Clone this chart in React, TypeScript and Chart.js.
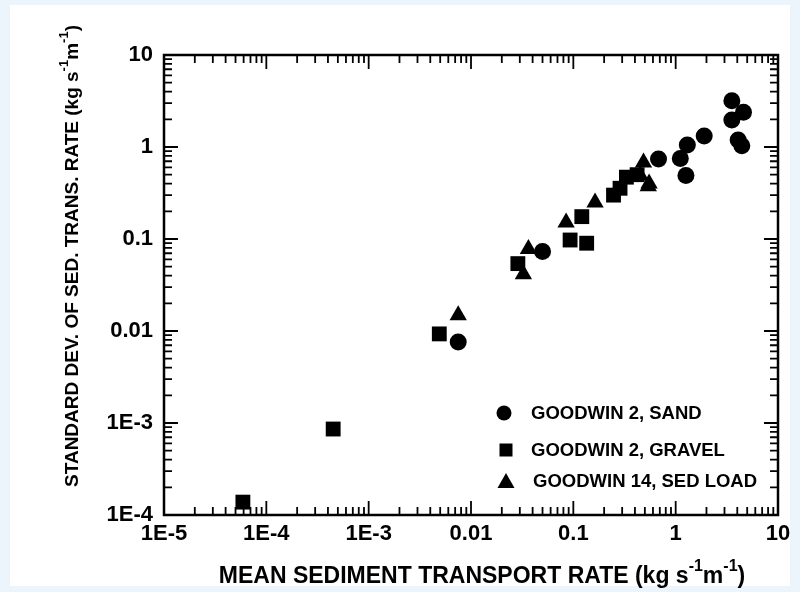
import React, { useEffect, useRef } from 'react';
import { Chart, registerables } from 'chart.js';

Chart.register(...registerables);

// Goodwin 2, sand fraction
const sandX = [0.0075, 0.05, 0.68, 1.11, 1.26, 1.3, 1.9, 3.54, 3.54, 4.6, 4.08, 4.43];
const sandY = [0.0076, 0.073, 0.74, 0.75, 0.49, 1.05, 1.32, 3.18, 1.96, 2.38, 1.19, 1.03];

// Goodwin 2, gravel fraction
const gravelX = [5.9e-5, 4.5e-4, 0.0049, 0.0287, 0.093, 0.135, 0.121, 0.247, 0.286, 0.33, 0.42];
const gravelY = [1.38e-4, 8.6e-4, 0.0093, 0.054, 0.0975, 0.09, 0.175, 0.3, 0.356, 0.47, 0.5];

// Goodwin 14, bed load
const sedX = [0.0075, 0.0325, 0.0364, 0.085, 0.163, 0.45, 0.485, 0.54, 0.55];
const sedY = [0.0148, 0.0415, 0.078, 0.151, 0.25, 0.49, 0.68, 0.375, 0.4];

const seriesLabels = ['GOODWIN 2, SAND', 'GOODWIN 2, GRAVEL', 'GOODWIN 14, SED LOAD'];

const xTickValues = [1e-5, 1e-4, 1e-3, 0.01, 0.1, 1, 10];
const xTickLabels = ['1E-5', '1E-4', '1E-3', '0.01', '0.1', '1', '10'];
const yTickValues = [1e-4, 1e-3, 0.01, 0.1, 1, 10];
const yTickLabels = ['1E-4', '1E-3', '0.01', '0.1', '1', '10'];

type Part = [string, boolean];
const xTitleParts: Part[] = [['MEAN SEDIMENT TRANSPORT RATE (kg s', false], ['-1', true], ['m', false], ['-1', true], [')', false]];
const yTitleParts: Part[] = [['STANDARD DEV. OF SED. TRANS. RATE (kg s', false], ['-1', true], ['m', false], ['-1', true], [')', false]];

const FONT = "'Liberation Sans', Arial, Helvetica, sans-serif";

const pairs = (xs: number[], ys: number[]) => xs.map((x, i) => ({ x, y: ys[i] }));

function drawRich(ctx: CanvasRenderingContext2D, parts: Part[], cx: number, cy: number, size: number) {
  const main = `bold ${size}px ${FONT}`;
  const sup = `bold ${Math.round(size * 0.7)}px ${FONT}`;
  let total = 0;
  for (const [t, s] of parts) {
    ctx.font = s ? sup : main;
    total += ctx.measureText(t).width;
  }
  let x = cx - total / 2;
  ctx.textBaseline = 'middle';
  ctx.textAlign = 'left';
  for (const [t, s] of parts) {
    ctx.font = s ? sup : main;
    ctx.fillText(t, x, s ? cy - size * 0.45 : cy);
    x += ctx.measureText(t).width;
  }
}

const framePlugin = {
  id: 'frameTicks',
  beforeDatasetsDraw(chart: any) {
    const { ctx, chartArea: a, scales } = chart;
    const xs = scales.x;
    const ys = scales.y;
    ctx.save();
    ctx.strokeStyle = '#000';
    ctx.lineWidth = 2.5;
    ctx.strokeRect(a.left, a.top, a.right - a.left, a.bottom - a.top);
    ctx.lineWidth = 1.8;
    ctx.beginPath();
    const major = 14;
    const minor = 8;
    xTickValues.forEach((d, i) => {
      const px = xs.getPixelForValue(d);
      ctx.moveTo(px, a.bottom); ctx.lineTo(px, a.bottom - major);
      ctx.moveTo(px, a.top); ctx.lineTo(px, a.top + major);
      if (i < xTickValues.length - 1) {
        for (let m = 2; m <= 9; m++) {
          const p = xs.getPixelForValue(d * m);
          ctx.moveTo(p, a.bottom); ctx.lineTo(p, a.bottom - minor);
          ctx.moveTo(p, a.top); ctx.lineTo(p, a.top + minor);
        }
      }
    });
    yTickValues.forEach((d, i) => {
      const py = ys.getPixelForValue(d);
      ctx.moveTo(a.left, py); ctx.lineTo(a.left + major, py);
      ctx.moveTo(a.right, py); ctx.lineTo(a.right - major, py);
      if (i < yTickValues.length - 1) {
        for (let m = 2; m <= 9; m++) {
          const p = ys.getPixelForValue(d * m);
          ctx.moveTo(a.left, p); ctx.lineTo(a.left + minor, p);
          ctx.moveTo(a.right, p); ctx.lineTo(a.right - minor, p);
        }
      }
    });
    ctx.stroke();
    ctx.restore();
  },
  afterDraw(chart: any) {
    const { ctx, chartArea: a } = chart;
    ctx.save();
    ctx.fillStyle = '#000';

    // axis titles
    drawRich(ctx, xTitleParts, 482, 577, 23);
    ctx.save();
    ctx.translate(73, 256);
    ctx.rotate(-Math.PI / 2);
    drawRich(ctx, yTitleParts, 0, 0, 19);
    ctx.restore();

    // legend
    const mx = a.right - 274;
    const rows = [a.bottom - 102, a.bottom - 65, a.bottom - 34];
    ctx.font = `bold 18.5px ${FONT}`;
    ctx.textBaseline = 'middle';
    ctx.textAlign = 'left';
    rows.forEach((ry, i) => {
      ctx.beginPath();
      if (i === 0) {
        ctx.arc(mx, ry, 7.5, 0, Math.PI * 2);
      } else if (i === 1) {
        ctx.rect(mx + 2 - 6.5, ry - 6.5, 13, 13);
      } else {
        ctx.moveTo(mx + 2, ry - 8);
        ctx.lineTo(mx + 2 + 8.5, ry + 7);
        ctx.lineTo(mx + 2 - 8.5, ry + 7);
        ctx.closePath();
      }
      ctx.fill();
      ctx.fillText(seriesLabels[i], mx + 27 + (i === 2 ? 2 : 0), ry + 1);
    });
    ctx.restore();
  },
};

export default function App() {
  const ref = useRef<HTMLCanvasElement | null>(null);

  useEffect(() => {
    if (!ref.current) return;
    const tickFont = { family: FONT, size: 22, weight: 'bold' as const };
    const chart = new Chart(ref.current, {
      type: 'scatter',
      data: {
        datasets: [
          {
            label: seriesLabels[0],
            data: pairs(sandX, sandY),
            pointStyle: 'circle',
            pointRadius: 8.5,
            backgroundColor: '#000',
            borderColor: '#000',
            borderWidth: 0,
          },
          {
            label: seriesLabels[1],
            data: pairs(gravelX, gravelY),
            pointStyle: 'rect',
            pointRadius: 10.5,
            backgroundColor: '#000',
            borderColor: '#000',
            borderWidth: 0,
          },
          {
            label: seriesLabels[2],
            data: pairs(sedX, sedY),
            pointStyle: 'triangle',
            pointRadius: 10,
            backgroundColor: '#000',
            borderColor: '#000',
            borderWidth: 0,
          },
        ],
      },
      options: {
        responsive: false,
        animation: false,
        devicePixelRatio: 1,
        layout: { padding: { left: 0, top: 55, right: 22, bottom: 0 } },
        plugins: {
          legend: { display: false },
          tooltip: { enabled: false },
          title: { display: false },
        },
        scales: {
          x: {
            type: 'logarithmic',
            min: 1e-5,
            max: 10,
            grid: { display: false, drawTicks: false },
            border: { display: false },
            afterBuildTicks: (s: any) => {
              s.ticks = xTickValues.map((v) => ({ value: v, major: true }));
            },
            afterFit: (s: any) => {
              s.height = 77;
            },
            ticks: {
              autoSkip: false,
              maxRotation: 0,
              padding: 6,
              color: '#000',
              font: tickFont,
              callback: (v: any) => {
                const i = xTickValues.findIndex((t) => Math.abs(Math.log10(t) - Math.log10(Number(v))) < 1e-6);
                return i >= 0 ? xTickLabels[i] : '';
              },
            },
          },
          y: {
            type: 'logarithmic',
            min: 1e-4,
            max: 10,
            grid: { display: false, drawTicks: false },
            border: { display: false },
            afterBuildTicks: (s: any) => {
              s.ticks = yTickValues.map((v) => ({ value: v, major: true }));
            },
            afterFit: (s: any) => {
              s.width = 164;
            },
            ticks: {
              autoSkip: false,
              padding: 11,
              color: '#000',
              font: tickFont,
              callback: (v: any) => {
                const i = yTickValues.findIndex((t) => Math.abs(Math.log10(t) - Math.log10(Number(v))) < 1e-6);
                return i >= 0 ? yTickLabels[i] : '';
              },
            },
          },
        },
      },
      plugins: [framePlugin],
    } as any);
    return () => chart.destroy();
  }, []);

  return (
    <div style={{ position: 'absolute', left: 0, top: 0, width: 800, height: 592, background: '#EDF5FC', overflow: 'hidden' }}>
      <div style={{ position: 'absolute', left: 10, top: 5, width: 780, height: 581, background: '#FFFFFF' }} />
      <canvas ref={ref} width={800} height={592} style={{ position: 'absolute', left: 0, top: 0, width: 800, height: 592 }} />
    </div>
  );
}
